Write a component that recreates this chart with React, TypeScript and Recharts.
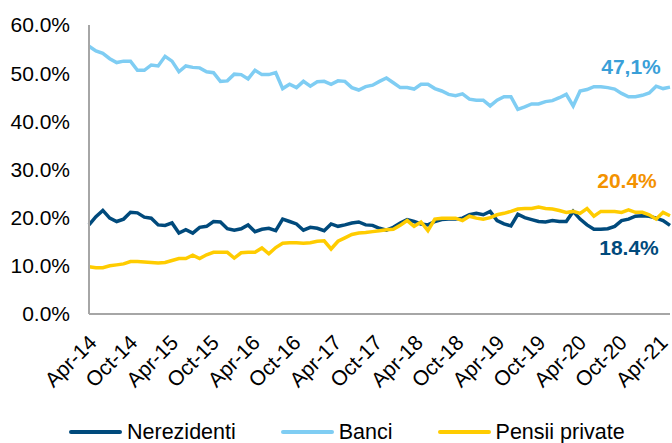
import React from "react";
import { Legend, Line, LineChart, XAxis, YAxis } from "recharts";

const MONTH_NAMES = ["Jan", "Feb", "Mar", "Apr", "May", "Jun", "Jul", "Aug", "Sep", "Oct", "Nov", "Dec"];

// Apr-14 .. Apr-21, lunar
const months = Array.from({ length: 85 }, (_, i) => {
  const m = 3 + i;
  return `${MONTH_NAMES[m % 12]}-${14 + Math.floor(m / 12)}`;
});

const tickLabels = [
  "Apr-14", "Oct-14", "Apr-15", "Oct-15", "Apr-16", "Oct-16", "Apr-17", "Oct-17",
  "Apr-18", "Oct-18", "Apr-19", "Oct-19", "Apr-20", "Oct-20", "Apr-21",
];

const nerezidenti = [
  18.5, 20.2, 21.5, 19.9, 19.2, 19.7, 21.1, 21.0, 20.1, 19.9, 18.5, 18.4, 18.9, 16.8, 17.5, 16.8, 18.0,
  18.2, 19.2, 19.1, 17.7, 17.4, 17.7, 18.5, 17.1, 17.6, 17.8, 17.3, 19.7, 19.2, 18.7, 17.4, 18.0, 17.8,
  17.3, 18.7, 18.2, 18.5, 18.9, 19.1, 18.5, 18.4, 17.8, 17.4, 18.0, 18.9, 19.6, 19.2, 18.7, 18.5, 19.2,
  19.6, 19.7, 19.7, 19.9, 20.6, 20.9, 20.6, 21.3, 19.4, 18.7, 18.3, 20.7, 20.0, 19.6, 19.2, 19.1, 19.4,
  19.2, 19.2, 21.3, 19.7, 18.5, 17.6, 17.6, 17.7, 18.2, 19.4, 19.7, 20.3, 20.4, 20.3, 19.9, 19.4, 18.4,
];

const banci = [
  55.6, 54.6, 54.1, 53.0, 52.2, 52.5, 52.5, 50.6, 50.6, 51.7, 51.5, 53.5, 52.5, 50.3, 51.5, 51.2, 51.1,
  50.3, 50.1, 48.3, 48.4, 49.8, 49.7, 48.8, 50.6, 49.7, 49.7, 50.1, 46.8, 47.7, 47.0, 48.3, 47.3, 48.2,
  48.3, 47.7, 48.4, 48.3, 47.0, 46.5, 47.2, 47.5, 48.3, 49.0, 48.0, 47.0, 47.0, 46.7, 47.7, 47.7, 46.8,
  46.3, 45.6, 45.3, 45.7, 44.6, 44.4, 44.4, 43.2, 44.4, 45.1, 45.1, 42.5, 43.0, 43.6, 43.6, 44.1, 44.3,
  44.9, 45.6, 43.2, 46.3, 46.6, 47.2, 47.2, 47.0, 46.7, 45.8, 45.1, 45.1, 45.4, 45.9, 47.3, 46.8, 47.1,
];

const pensiiPrivate = [
  9.8, 9.6, 9.6, 10.0, 10.2, 10.4, 10.9, 10.9, 10.8, 10.7, 10.6, 10.7, 11.1, 11.5, 11.5, 12.2, 11.5,
  12.3, 12.8, 12.8, 12.8, 11.6, 12.7, 12.8, 12.8, 13.7, 12.5, 13.8, 14.7, 14.8, 14.8, 14.7, 14.8, 15.1,
  15.2, 13.5, 15.1, 15.8, 16.5, 16.8, 16.9, 17.1, 17.3, 17.5, 17.6, 18.4, 19.4, 18.2, 19.1, 17.3, 19.7,
  19.9, 19.9, 19.9, 19.4, 20.3, 19.9, 19.7, 20.0, 20.6, 20.9, 21.3, 21.8, 21.9, 21.9, 22.2, 21.9, 21.8,
  21.5, 21.1, 21.3, 20.9, 21.9, 20.3, 21.3, 21.3, 21.3, 21.1, 21.6, 21.1, 21.1, 20.6, 19.7, 21.1, 20.4,
];

const yTicks = [0, 10, 20, 30, 40, 50, 60];

const data = months.map((month, i) => ({
  month,
  Nerezidenti: nerezidenti[i],
  Banci: banci[i],
  "Pensii private": pensiiPrivate[i],
}));

const FONT = '"Liberation Sans", Arial, sans-serif';
const NAVY = "#004a7c";
const LIGHT_BLUE = "#7fcdf3";
const YELLOW = "#ffcc00";

const legendItems = [
  { name: "Nerezidenti", color: NAVY },
  { name: "Banci", color: LIGHT_BLUE },
  { name: "Pensii private", color: YELLOW },
];

// rotated labels drift a little left of the tick towards the right end, like the source
function XTick({ x, y, payload, index }: any) {
  const dx = 9 - (10 * (index ?? 0)) / (tickLabels.length - 1);
  return (
    <g transform={`translate(${x + dx},${y + 28})`}>
      <text textAnchor="end" transform="rotate(-45)" fontSize={21} fontFamily={FONT} fill="#000">
        {payload.value}
      </text>
    </g>
  );
}

// end label, only on the last point
function endLabel(text: string, color: string, dx: number, dy: number) {
  return (props: any) => {
    if (props.index !== months.length - 1) return null;
    return (
      <text
        key="end"
        x={props.x + dx}
        y={props.y + dy}
        textAnchor="middle"
        dominantBaseline="central"
        fontSize={21}
        fontWeight="bold"
        fontFamily={FONT}
        fill={color}
      >
        {text}
      </text>
    );
  };
}

function LegendContent() {
  return (
    <div style={{ display: "flex", gap: 45, paddingLeft: 69, height: 22, alignItems: "center" }}>
      {legendItems.map((p) => (
        <div key={p.name} style={{ display: "flex", alignItems: "center", gap: 5 }}>
          <div style={{ width: 53, height: 4, borderRadius: 2, background: p.color }} />
          <span style={{ fontSize: 21.5, fontFamily: FONT, color: "#000", lineHeight: "22px" }}>{p.name}</span>
        </div>
      ))}
    </div>
  );
}

export default function App() {
  return (
    <div style={{ position: "absolute", left: 0, top: 0, width: 672, height: 443, background: "#fff" }}>
      <LineChart width={672} height={443} data={data} margin={{ top: 25, right: 2, left: 0, bottom: 0 }}>
        <XAxis
          dataKey="month"
          ticks={tickLabels}
          interval={0}
          tick={<XTick />}
          tickLine={false}
          tickSize={0}
          height={107}
          axisLine={{ stroke: "#a6a6a6", strokeWidth: 2 }}
        />
        <YAxis
          domain={[0, 60]}
          ticks={yTicks}
          width={89}
          tickLine={false}
          tickSize={0}
          tickMargin={19}
          tickFormatter={(v: number) => `${v.toFixed(1)}%`}
          tick={{ fontSize: 21, fontFamily: FONT, fill: "#000" }}
          axisLine={{ stroke: "#a6a6a6", strokeWidth: 2 }}
        />
        <Legend verticalAlign="bottom" content={<LegendContent />} wrapperStyle={{ bottom: 0 }} />
        <Line
          dataKey="Nerezidenti"
          stroke={NAVY}
          strokeWidth={3.5}
          dot={false}
          isAnimationActive={false}
          label={endLabel("18.4%", NAVY, -41, 22)}
        />
        <Line
          dataKey="Banci"
          stroke={LIGHT_BLUE}
          strokeWidth={3.5}
          dot={false}
          isAnimationActive={false}
          label={endLabel("47,1%", "#3a9fd8", -39, -21)}
        />
        <Line
          dataKey="Pensii private"
          stroke={YELLOW}
          strokeWidth={3.5}
          dot={false}
          isAnimationActive={false}
          label={endLabel("20.4%", "#f39200", -43, -35)}
        />
      </LineChart>
    </div>
  );
}
